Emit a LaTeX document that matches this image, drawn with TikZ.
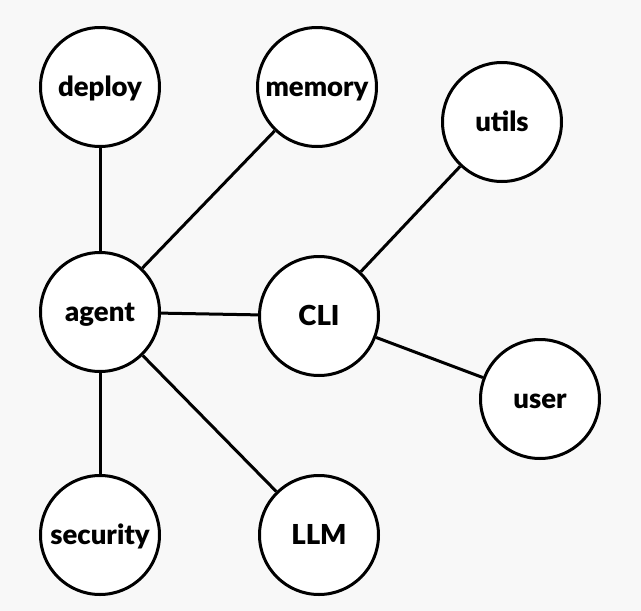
\documentclass[tikz,border=0pt]{standalone}
\usepackage{fontspec}
\setmainfont{Lato}[BoldFont={Lato Black}]
\usepackage{tikz}
\definecolor{canvas}{HTML}{F8F8F8}
\tikzset{modnode/.style={circle,draw=black,fill=white,line width=3pt,minimum size=119pt,inner sep=0pt,text height=19.5pt,text depth=0pt,font=\fontsize{27.5}{30}\selectfont\bfseries},link/.style={draw=black,line width=3pt}}

\begin{document}
\begin{tikzpicture}[x=1pt,y=-1pt]
\fill[canvas] (0,0) rectangle (641,611);
\useasboundingbox (0,0) rectangle (641,611);
\node[modnode] (deploy) at (100,87) {deploy};
\node[modnode] (memory) at (317,87) {memory};
\node[modnode] (utils) at (502,122) {utils};
\node[modnode] (agent) at (100,312) {agent};
\node[modnode] (cli) at (319,316) {CLI};
\node[modnode] (user) at (540,399) {user};
\node[modnode] (security) at (100,535) {security};
\node[modnode] (llm) at (319,535) {LLM};
\draw[link] (agent)--(deploy);\draw[link] (agent)--(memory);\draw[link] (agent)--(cli);
\draw[link] (agent)--(security);\draw[link] (agent)--(llm);
\draw[link] (cli)--(utils);\draw[link] (cli)--(user);
\end{tikzpicture}
\end{document}
